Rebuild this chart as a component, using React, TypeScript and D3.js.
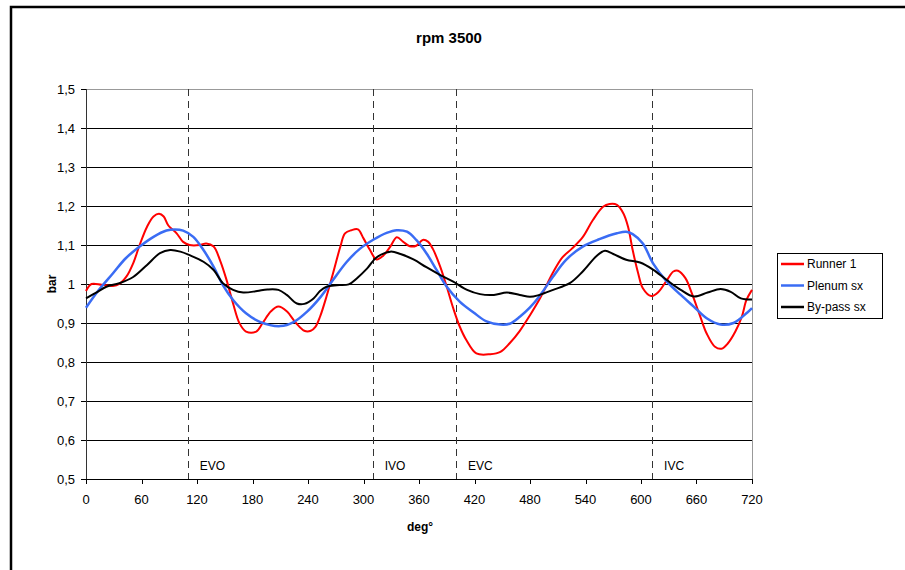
import React from "react";
import * as d3 from "d3";

const runner: [number, number][] = [[0,0.982],[6,1.0],[17,0.998],[29,0.995],[36,1.0],[44,1.02],[51,1.053],[58,1.10],[66,1.147],[73,1.173],[79,1.18],[84,1.173],[89,1.15],[98,1.13],[105,1.108],[112,1.10],[123,1.10],[130,1.104],[138,1.096],[145,1.06],[152,1.01],[159,0.95],[166,0.899],[173,0.878],[184,0.878],[191,0.9],[200,0.93],[208,0.942],[217,0.93],[227,0.9],[236,0.88],[243,0.88],[248,0.89],[253,0.916],[260,0.968],[267,1.027],[275,1.096],[280,1.13],[287,1.138],[294,1.14],[300,1.117],[307,1.087],[314,1.063],[321,1.072],[329,1.096],[336,1.12],[343,1.108],[350,1.097],[357,1.098],[364,1.113],[370,1.108],[375,1.09],[383,1.044],[390,0.993],[397,0.938],[404,0.891],[411,0.857],[422,0.822],[437,0.82],[448,0.826],[458,0.848],[469,0.88],[480,0.92],[491,0.964],[505,1.03],[515,1.068],[525,1.09],[537,1.12],[548,1.164],[559,1.198],[566,1.205],[574,1.203],[581,1.181],[586,1.147],[591,1.087],[597,1.027],[602,0.989],[611,0.969],[619,0.98],[628,1.01],[635,1.032],[640,1.034],[648,1.015],[655,0.976],[664,0.917],[671,0.873],[680,0.839],[687,0.834],[694,0.848],[702,0.878],[709,0.916],[714,0.959],[720,0.985]];

const plenum: [number, number][] = [[0,0.939],[14,0.985],[29,1.027],[43,1.066],[58,1.096],[73,1.121],[87,1.137],[96,1.14],[105,1.137],[116,1.121],[127,1.087],[138,1.044],[148,0.997],[159,0.959],[173,0.925],[188,0.903],[210,0.892],[225,0.903],[239,0.929],[253,0.965],[267,1.01],[282,1.057],[296,1.09],[311,1.114],[325,1.131],[336,1.138],[347,1.134],[357,1.113],[368,1.079],[379,1.036],[390,0.993],[404,0.955],[419,0.927],[433,0.904],[448,0.896],[458,0.898],[469,0.916],[480,0.94],[490,0.968],[505,1.019],[519,1.062],[537,1.096],[555,1.115],[574,1.13],[584,1.134],[591,1.128],[602,1.104],[613,1.053],[628,1.006],[643,0.972],[657,0.942],[671,0.912],[686,0.896],[700,0.9],[715,0.927],[720,0.938]];

const bypass: [number, number][] = [[0,0.963],[11,0.978],[22,0.993],[36,1.002],[51,1.018],[66,1.049],[80,1.079],[91,1.087],[102,1.083],[112,1.074],[127,1.057],[138,1.036],[148,1.002],[159,0.985],[170,0.978],[185,0.982],[196,0.986],[208,0.985],[217,0.972],[228,0.95],[236,0.949],[246,0.963],[253,0.982],[260,0.993],[271,0.997],[284,0.999],[293,1.015],[304,1.04],[314,1.068],[329,1.083],[340,1.077],[354,1.063],[368,1.043],[383,1.023],[397,1.006],[412,0.985],[426,0.974],[441,0.972],[455,0.978],[469,0.972],[480,0.967],[490,0.972],[505,0.985],[523,1.002],[537,1.032],[552,1.072],[561,1.085],[570,1.077],[584,1.062],[599,1.055],[613,1.037],[628,1.01],[643,0.985],[657,0.968],[672,0.978],[686,0.987],[697,0.98],[708,0.963],[720,0.96]];

const seriesNames = ["Runner 1", "Plenum sx", "By-pass sx"];
const seriesColors = ["#ff0000", "#3a6cf4", "#000000"];
const xTicks = [0, 60, 120, 180, 240, 300, 360, 420, 480, 540, 600, 660, 720];
const yTicks = [0.5, 0.6, 0.7, 0.8, 0.9, 1.0, 1.1, 1.2, 1.3, 1.4, 1.5];
const eventDeg = [110, 310, 400, 612];
const eventLabels = ["EVO", "IVO", "EVC", "IVC"];

const font = "Arial, 'Liberation Sans', sans-serif";

export default function App() {
  const x = d3.scaleLinear().domain([0, 720]).range([86, 752]);
  const y = d3.scaleLinear().domain([0.5, 1.5]).range([479, 89]);
  const line = d3
    .line<[number, number]>()
    .x((d) => x(d[0]))
    .y((d) => y(d[1]))
    .curve(d3.curveCatmullRom.alpha(0.5));
  const data = [runner, plenum, bypass];
  const fmt = (v: number) => (Math.abs(v - 1) < 1e-9 ? "1" : v.toFixed(1).replace(".", ","));

  return (
    <svg width={905} height={570} style={{ position: "absolute", left: 0, top: 0, background: "#fff" }} fontFamily={font}>
      <rect x={0} y={0} width={905} height={570} fill="#fff" />
      <rect x={11} y={7} width={1000} height={700} fill="none" stroke="#000" strokeWidth={2.5} />
      <text x={449} y={43} textAnchor="middle" fontSize={15} fontWeight="bold">rpm 3500</text>

      {/* gridlines */}
      {yTicks.map((t) => (
        <line key={"g" + t} x1={x(0)} x2={x(720)} y1={Math.round(y(t)) + 0.5} y2={Math.round(y(t)) + 0.5}
          stroke={t === 1.5 ? "#999" : "#000"} strokeWidth={1} />
      ))}
      <line x1={x(720) + 0.5} x2={x(720) + 0.5} y1={y(1.5)} y2={y(0.5)} stroke="#999" strokeWidth={1} />

      {/* event dashed lines */}
      {eventDeg.map((d, i) => (
        <g key={"e" + i}>
          <line x1={Math.round(x(d)) + 0.5} x2={Math.round(x(d)) + 0.5} y1={y(1.5)} y2={y(0.5)}
            stroke="#333" strokeWidth={1} strokeDasharray="7,5" />
          <text x={x(d) + 12} y={470} fontSize={12}>{eventLabels[i]}</text>
        </g>
      ))}

      {/* axes */}
      <line x1={x(0) + 0.5} x2={x(0) + 0.5} y1={y(1.5)} y2={y(0.5)} stroke="#333" strokeWidth={1} />
      <line x1={x(0)} x2={x(720)} y1={y(0.5) + 0.5} y2={y(0.5) + 0.5} stroke="#000" strokeWidth={1} />
      {yTicks.map((t) => (
        <g key={"yt" + t}>
          <line x1={x(0) - 5} x2={x(0)} y1={Math.round(y(t)) + 0.5} y2={Math.round(y(t)) + 0.5} stroke="#000" />
          <text x={75} y={y(t) + 5} textAnchor="end" fontSize={13}>{fmt(t)}</text>
        </g>
      ))}
      {xTicks.map((t) => (
        <g key={"xt" + t}>
          <line x1={Math.round(x(t)) + 0.5} x2={Math.round(x(t)) + 0.5} y1={y(0.5)} y2={y(0.5) + 5} stroke="#000" />
          <text x={x(t)} y={504} textAnchor="middle" fontSize={13}>{t}</text>
        </g>
      ))}
      <text x={420} y={531} textAnchor="middle" fontSize={12} fontWeight="bold">deg°</text>
      <text transform="translate(56,284) rotate(-90)" textAnchor="middle" fontSize={12} fontWeight="bold">bar</text>

      {/* series */}
      {data.map((s, i) => (
        <path key={"s" + i} d={line(s) || ""} fill="none" stroke={seriesColors[i]}
          strokeWidth={i === 1 ? 2.5 : 2} strokeLinejoin="round" />
      ))}

      {/* legend */}
      <rect x={777.5} y={253.5} width={105} height={65} fill="#fff" stroke="#000" strokeWidth={1} />
      {seriesNames.map((n, i) => (
        <g key={"l" + i}>
          <line x1={781} x2={804} y1={264 + i * 21.5} y2={264 + i * 21.5} stroke={seriesColors[i]} strokeWidth={2.5} />
          <text x={807} y={268 + i * 21.5} fontSize={12}>{n}</text>
        </g>
      ))}
    </svg>
  );
}
